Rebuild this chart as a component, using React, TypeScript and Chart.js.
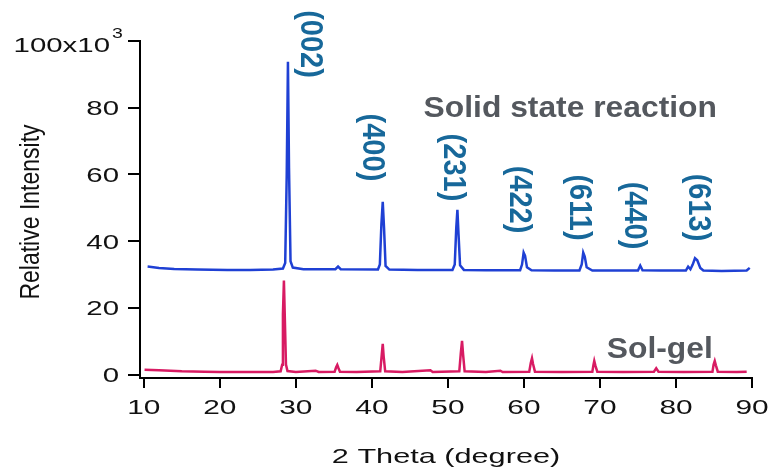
import React, { useEffect, useRef } from "react";
import { Chart, registerables } from "chart.js";

Chart.register(...registerables);

// ---- Data ----
const solidTheta = [
  10.5, 12, 14, 17, 21, 24, 27, 28.3, 28.6, 28.8, 28.96, 29.1, 29.3, 29.6, 31, 35.2, 35.55, 35.9,
  40.8, 41.05, 41.25, 41.43, 41.6, 41.8, 42.3, 46, 50.6, 50.9, 51.1, 51.25, 51.4, 51.6, 52.1, 55,
  59.5, 59.75, 59.96, 60.15, 60.4, 61, 64, 67.3, 67.6, 67.8, 68.0, 68.25, 69, 72, 75.0, 75.3, 75.6,
  78, 81.3, 81.6, 81.9, 82.2, 82.5, 82.8, 83.2, 83.6, 86, 89.3, 89.7,
];
const solidIntensity = [
  32.4, 32.0, 31.7, 31.5, 31.4, 31.4, 31.5, 31.8, 33.5, 60, 93.8, 62, 34, 32.1, 31.6, 31.6, 32.4, 31.6,
  31.5, 33, 45, 51.8, 44, 32.6, 31.5, 31.4, 31.4, 33, 44, 49.4, 42, 32.8, 31.4, 31.3,
  31.3, 33, 36.6, 35.6, 32.2, 31.3, 31.2, 31.2, 33, 36.6, 35.4, 32.2, 31.2, 31.2, 31.2, 32.7, 31.3,
  31.2, 31.2, 32.4, 31.6, 33, 34.9, 34.3, 32, 31.2, 31.1, 31.2, 32.0,
];

const solTheta = [
  10.1, 12, 15, 18, 20, 24, 27, 28.0, 28.2, 28.3, 28.43, 28.55, 28.7, 28.9, 30, 32.6, 33, 35.1,
  35.3, 35.45, 35.6, 35.8, 38, 41.1, 41.3, 41.43, 41.55, 41.75, 44, 47.7, 48, 51.5, 51.7, 51.86,
  52.0, 52.2, 55, 56.9, 57.2, 60.7, 60.9, 61.06, 61.2, 61.45, 65, 69.0, 69.15, 69.25, 69.4, 69.65,
  73, 77.1, 77.4, 77.7, 81, 84.8, 84.95, 85.1, 85.25, 85.5, 88, 89.3,
];
const solIntensity = [
  1.5, 1.3, 1.0, 0.9, 0.8, 0.8, 0.8, 1.0, 3, 18, 28.2, 17, 3, 1.1, 0.8, 1.2, 0.8, 0.9,
  2.2, 2.9, 2.0, 0.9, 0.8, 1.0, 6, 9.2, 5.5, 1.0, 0.8, 1.3, 0.8, 1.0, 6.5, 10.1,
  6, 1.0, 0.8, 1.2, 0.8, 0.9, 3.5, 4.9, 3.2, 0.9, 0.8, 0.9, 3, 4.1, 2.7, 0.9,
  0.8, 0.9, 1.9, 0.9, 0.8, 0.9, 3, 4.1, 2.8, 0.9, 0.8, 0.9,
];

const xTicks = [10, 20, 30, 40, 50, 60, 70, 80, 90];
const yTicks = [0, 20, 40, 60, 80, 100];
const yTickLabels = ["0", "20", "40", "60", "80", "100x10"];
const yTopSuperscript = "3";

const peakLabels = ["(002)", "(400)", "(231)", "(422)", "(611)", "(440)", "(613)"];
const peakLabelTheta = [31.8, 40.0, 50.65, 59.3, 67.2, 74.4, 82.85];
const peakLabelIntensity = [99.1, 68.1, 62.1, 52.5, 50.1, 47.7, 50.1];

const seriesNames = ["Solid state reaction", "Sol-gel"];
const seriesNameTheta = [46.8, 70.9];
const seriesNameIntensity = [77.2, 4.9];

const xTitle = "2 Theta (degree)";
const yTitle = "Relative Intensity";

const FONT = "'Liberation Sans', Arial, sans-serif";

function drawText(
  ctx: CanvasRenderingContext2D,
  text: string,
  x: number,
  y: number,
  opts: { size: number; bold?: boolean; color: string; align?: CanvasTextAlign; baseline?: CanvasTextBaseline; sx?: number; rot?: number }
) {
  ctx.save();
  ctx.translate(x, y);
  ctx.scale(opts.sx ?? 1, 1);
  if (opts.rot) ctx.rotate(opts.rot);
  ctx.font = `${opts.bold ? "bold " : ""}${opts.size}px ${FONT}`;
  ctx.fillStyle = opts.color;
  ctx.textAlign = opts.align ?? "left";
  ctx.textBaseline = opts.baseline ?? "alphabetic";
  ctx.fillText(text, 0, 0);
  ctx.restore();
}

const textPlugin = {
  id: "textPlugin",
  afterDraw(chart: any) {
    const ctx: CanvasRenderingContext2D = chart.ctx;
    const xs = chart.scales.x;
    const ys = chart.scales.y;
    const area = chart.chartArea;

    // y tick labels
    yTicks.forEach((v, i) => {
      const py = ys.getPixelForValue(v);
      if (i === yTicks.length - 1) {
        drawText(ctx, yTickLabels[i], 110, py + 11, { size: 21, color: "#111", align: "right", sx: 1.4 });
        drawText(ctx, yTopSuperscript, 112, py - 3, { size: 15, color: "#111", align: "left", sx: 1.3 });
      } else {
        drawText(ctx, yTickLabels[i], 119, py + 7.5, { size: 21, color: "#111", align: "right", sx: 1.4 });
      }
    });

    // x tick labels
    xTicks.forEach((v) => {
      const px = xs.getPixelForValue(v);
      drawText(ctx, String(v), px, 414, { size: 21, color: "#111", align: "center", sx: 1.42 });
    });

    // axis titles
    drawText(ctx, xTitle, (area.left + area.right) / 2, 463, { size: 21, color: "#111", align: "center", sx: 1.46 });
    drawText(ctx, yTitle, 39, 212, { size: 23, color: "#111", align: "center", sx: 1.17, rot: -Math.PI / 2 });

    // peak (hkl) labels
    peakLabels.forEach((t, i) => {
      const px = xs.getPixelForValue(peakLabelTheta[i]);
      const py = ys.getPixelForValue(peakLabelIntensity[i]);
      drawText(ctx, t, px, py, { size: 29, bold: true, color: "#17689a", align: "center", baseline: "middle", sx: 1.05, rot: Math.PI / 2 });
    });

    // series names
    seriesNames.forEach((t, i) => {
      const px = xs.getPixelForValue(seriesNameTheta[i]);
      const py = ys.getPixelForValue(seriesNameIntensity[i]);
      drawText(ctx, t, px, py, { size: 30, bold: true, color: "#54585e", align: "left", sx: 1.06 });
    });
  },
};

export default function App() {
  const ref = useRef<HTMLCanvasElement | null>(null);

  useEffect(() => {
    if (!ref.current) return;
    const solid = solidTheta.map((x, i) => ({ x, y: solidIntensity[i] }));
    const sol = solTheta.map((x, i) => ({ x, y: solIntensity[i] }));
    const axisCommon = {
      type: "linear" as const,
      ticks: { display: false },
      grid: {
        display: true,
        drawOnChartArea: false,
        drawTicks: true,
        color: "#000",
        lineWidth: 2,
      },
      border: { display: true, color: "#000", width: 2 },
    };
    const chart = new Chart(ref.current, {
      type: "line",
      data: {
        datasets: [
          {
            label: seriesNames[0],
            data: solid,
            borderColor: "#1f40d4",
            borderWidth: 2.5,
            pointRadius: 0,
            tension: 0,
            fill: false,
          },
          {
            label: seriesNames[1],
            data: sol,
            borderColor: "#d81b63",
            borderWidth: 2.5,
            pointRadius: 0,
            tension: 0,
            fill: false,
          },
        ],
      },
      options: {
        responsive: false,
        animation: false,
        events: [],
        layout: { padding: { top: 41, right: 19, left: 0, bottom: 0 } },
        plugins: { legend: { display: false }, tooltip: { enabled: false } },
        scales: {
          x: {
            ...axisCommon,
            min: 9.5,
            max: 90,
            grid: { ...axisCommon.grid, tickLength: 10 },
            afterBuildTicks: (s: any) => {
              s.ticks = xTicks.map((v) => ({ value: v }));
            },
            afterFit: (s: any) => {
              s.height = 90;
            },
          },
          y: {
            ...axisCommon,
            min: -1,
            max: 100,
            grid: { ...axisCommon.grid, tickLength: 12 },
            afterBuildTicks: (s: any) => {
              s.ticks = yTicks.map((v) => ({ value: v }));
            },
            afterFit: (s: any) => {
              s.width = 140;
            },
          },
        },
      } as any,
      plugins: [textPlugin],
    });
    return () => chart.destroy();
  }, []);

  return (
    <div style={{ position: "absolute", left: 0, top: 0, width: 771, height: 468, background: "#fff" }}>
      <canvas ref={ref} width={771} height={468} />
    </div>
  );
}
